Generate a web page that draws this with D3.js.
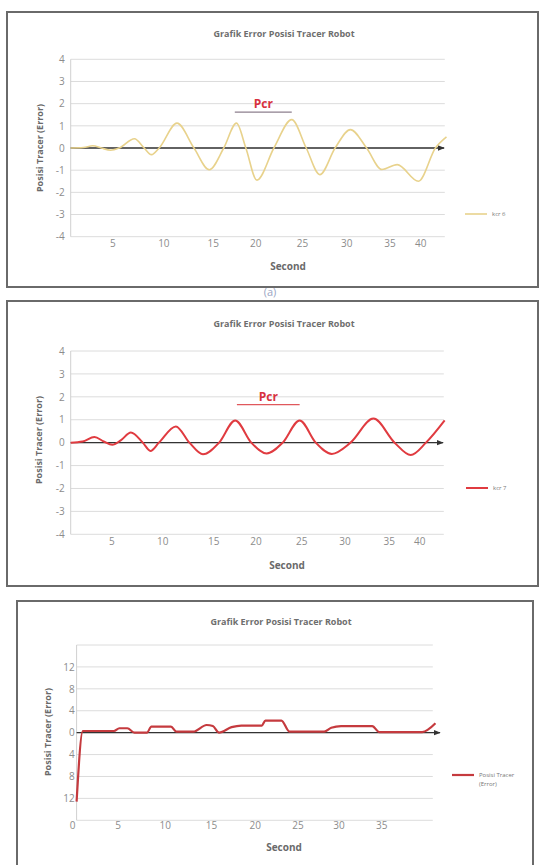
<!DOCTYPE html>
<html lang="id">
<head>
<meta charset="UTF-8">
<title>Grafik Error Posisi Tracer Robot</title>
<script src="https://d3js.org/d3.v7.min.js"></script>
<style>
    body { margin: 0; padding: 0; background: #fff; }
    svg { display: block; font-family: "Open Sans", "DejaVu Sans", sans-serif; }
</style>
</head>
<body>
<div id="chart"></div>
<script>
    // --- data ---
    // chart 1 : Kcr 6 (x in sample units, y = error)
    const kcr6Time  = [0, 1.5, 2.6, 3.6, 4.7, 5.7, 7.5, 8.6, 9.5, 10.4, 12.5, 14.5, 16.3, 18.0, 19.5, 20.6, 21.9, 23.9, 26.0, 27.7, 29.3, 31.1, 32.9, 34.8, 36.6, 38.4, 40.9, 42.9, 44.2];
    const kcr6Error = [0, 0.02, 0.1, 0.0, -0.1, 0.0, 0.42, 0.02, -0.3, 0.0, 1.12, 0.0, -0.98, 0.0, 1.12, 0.0, -1.45, 0.0, 1.28, 0.0, -1.2, 0.0, 0.83, 0.0, -0.97, -0.75, -1.5, 0.0, 0.5];

    // chart 2 : Kcr 7
    const kcr7Time  = [0, 1.4, 2.8, 3.9, 4.9, 5.9, 7.1, 8.5, 9.4, 10.4, 12.4, 14.0, 15.6, 17.5, 19.4, 21.3, 23.1, 25.0, 27.0, 28.9, 30.8, 33.0, 35.7, 38.2, 40.1, 41.9, 44.1];
    const kcr7Error = [0, 0.05, 0.25, 0.05, -0.09, 0.1, 0.44, 0.0, -0.36, 0.0, 0.71, 0.0, -0.51, 0.0, 0.97, 0.0, -0.47, 0.0, 0.97, 0.0, -0.49, 0.0, 1.05, 0.0, -0.54, 0.0, 0.97];

    // chart 3 : Posisi Tracer (Error)
    const tracerTime  = [0, 0.7, 4.2, 4.8, 5.7, 6.5, 7.9, 8.4, 10.6, 11.2, 13.1, 14.6, 15.3, 16.0, 17.4, 18.5, 20.8, 21.2, 23.0, 23.9, 27.8, 28.6, 29.7, 33.2, 34.0, 38.8, 40.3];
    const tracerError = [-12.6, 0.3, 0.3, 0.8, 0.8, 0.0, 0.0, 1.1, 1.1, 0.2, 0.2, 1.4, 1.2, 0.0, 1.0, 1.3, 1.3, 2.2, 2.2, 0.2, 0.2, 0.9, 1.2, 1.2, 0.1, 0.1, 1.7];

    // x tick labels (category axis, labels sit at these sample positions)
    const xTickLabels12 = ["5", "10", "15", "20", "25", "30", "35", "40"];
    const xTickPos1 = [4.9, 10.9, 16.7, 21.7, 27.2, 32.4, 37.5, 41.1];
    const xTickPos2 = [4.8, 10.8, 16.8, 21.8, 27.2, 32.3, 37.5, 41.1];
    const xTickLabels3 = ["0", "5", "10", "15", "20", "25", "30", "35"];
    const xTickPos3 = [-0.5, 4.6, 9.9, 15.1, 20.0, 24.8, 29.4, 34.2];

    // y ticks
    const yTicks12 = [-4, -3, -2, -1, 0, 1, 2, 3, 4];
    const yTicks3 = [-16, -12, -8, -4, 0, 4, 8, 12, 16];
    const yTickLabels3 = ["", "12", "8", "4", "0", "4", "8", "12", ""];

    const W = 541, H = 865;
    const svg = d3.select("#chart").append("svg")
        .attr("width", W).attr("height", H);

    svg.append("defs").html(`
        <marker id="arrow" viewBox="0 0 10 10" refX="9" refY="5" markerWidth="5" markerHeight="5" orient="auto">
            <path d="M0,1 L10,5 L0,9 z" fill="#333"></path>
        </marker>`);

    // caption fragment peeking out between chart 1 and 2
    svg.append("text").attr("x", 270).attr("y", 296)
        .attr("text-anchor", "middle").attr("font-size", 11).attr("fill", "#9aa6c4")
        .text("(a)");

    function drawPanel(p) {
        const g = svg.append("g");

        // frame
        g.append("rect")
            .attr("x", p.box[0]).attr("y", p.box[1])
            .attr("width", p.box[2]).attr("height", p.box[3])
            .attr("fill", "#fff").attr("stroke", "#6a6a6a").attr("stroke-width", 2);

        const x = d3.scaleLinear().domain(p.xDomain).range(p.xRange);
        const y = d3.scaleLinear().domain(p.yDomain).range(p.yRange);

        // grid lines
        g.selectAll(".grid").data(p.yTicks).join("line")
            .attr("x1", p.xRange[0]).attr("x2", p.xRange[1])
            .attr("y1", d => y(d)).attr("y2", d => y(d))
            .attr("stroke", "#dcdcdc").attr("stroke-width", 1);

        // left axis line
        g.append("line")
            .attr("x1", p.xRange[0]).attr("x2", p.xRange[0])
            .attr("y1", p.yRange[0]).attr("y2", p.yRange[1])
            .attr("stroke", "#d0d0d0");

        // y axis labels
        const yAxis = g.append("g")
            .attr("transform", `translate(${p.xRange[0]},0)`)
            .call(d3.axisLeft(y).tickValues(p.yTicks).tickSize(0).tickPadding(p.yPad)
                .tickFormat((d, i) => p.yLabels ? p.yLabels[i] : d));
        yAxis.select(".domain").remove();
        yAxis.selectAll("text").attr("font-size", 10).attr("fill", "#8c8c8c")
            .attr("font-family", "Open Sans, sans-serif");

        // x axis labels
        const xAxis = g.append("g")
            .attr("transform", `translate(0,${p.xLabelY})`)
            .call(d3.axisBottom(x).tickValues(p.xTicks).tickSize(0).tickPadding(0)
                .tickFormat((d, i) => p.xLabels[i]));
        xAxis.select(".domain").remove();
        xAxis.selectAll("text").attr("font-size", 10).attr("fill", "#8c8c8c")
            .attr("font-family", "Open Sans, sans-serif");

        // zero axis with arrow
        g.append("line")
            .attr("x1", p.xRange[0]).attr("x2", p.arrowEnd)
            .attr("y1", y(0)).attr("y2", y(0))
            .attr("stroke", "#333").attr("stroke-width", 1.4)
            .attr("marker-end", "url(#arrow)");

        // series
        const pts = p.xs.map((v, i) => [v, p.ys[i]]);
        const line = d3.line().x(d => x(d[0])).y(d => y(d[1])).curve(p.curve);
        g.append("path").datum(pts)
            .attr("d", line)
            .attr("fill", "none")
            .attr("stroke", p.color)
            .attr("stroke-width", p.width)
            .attr("stroke-linejoin", "round");

        // Pcr marker
        if (p.pcr) {
            g.append("line")
                .attr("x1", x(p.pcr[0])).attr("x2", x(p.pcr[1]))
                .attr("y1", y(p.pcr[2])).attr("y2", y(p.pcr[2]))
                .attr("stroke", p.pcrLine).attr("stroke-width", 1.3);
            g.append("text")
                .attr("x", x((p.pcr[0] + p.pcr[1]) / 2)).attr("y", y(p.pcr[2]) - 4)
                .attr("text-anchor", "middle")
                .attr("font-size", 12).attr("font-weight", "bold").attr("fill", "#d8323f")
                .text("Pcr");
        }

        // title
        g.append("text")
            .attr("x", p.titleX).attr("y", p.titleY)
            .attr("text-anchor", "middle")
            .attr("font-size", 9).attr("font-weight", "bold").attr("fill", "#6e6e6e")
            .text("Grafik Error Posisi Tracer Robot");

        // axis titles
        g.append("text")
            .attr("transform", `translate(${p.yTitle[0]},${p.yTitle[1]}) rotate(-90)`)
            .attr("text-anchor", "middle").attr("dy", "0.35em")
            .attr("font-size", 9).attr("font-weight", "bold").attr("fill", "#6a6a6a")
            .text("Posisi Tracer (Error)");
        g.append("text")
            .attr("x", p.xTitle[0]).attr("y", p.xTitle[1])
            .attr("text-anchor", "middle")
            .attr("font-size", 10).attr("font-weight", "bold").attr("fill", "#6a6a6a")
            .text("Second");

        // legend
        g.append("line")
            .attr("x1", p.legend[0]).attr("x2", p.legend[0] + 22)
            .attr("y1", p.legend[1]).attr("y2", p.legend[1])
            .attr("stroke", p.color).attr("stroke-width", p.width);
        const lt = g.append("text")
            .attr("x", p.legend[0] + 27).attr("y", p.legend[1] + 2)
            .attr("font-size", 6).attr("fill", "#777");
        p.legendText.forEach((t, i) => {
            lt.append("tspan").attr("x", p.legend[0] + 27).attr("dy", i === 0 ? 0 : 9).text(t);
        });
    }

    drawPanel({
        box: [7, 12, 531, 275],
        xDomain: [0, 44], xRange: [70.7, 444.8],
        yDomain: [-4, 4], yRange: [236.7, 59.3],
        yTicks: yTicks12, yPad: 6,
        xTicks: xTickPos1, xLabels: xTickLabels12, xLabelY: 240,
        arrowEnd: 444,
        xs: kcr6Time, ys: kcr6Error,
        curve: d3.curveMonotoneX, color: "#e8d28c", width: 1.6,
        pcr: [19.3, 26.0, 1.62], pcrLine: "#8d7f8e",
        titleX: 284, titleY: 37,
        yTitle: [40, 148], xTitle: [288, 270],
        legend: [465, 214], legendText: ["kcr 6"]
    });

    drawPanel({
        box: [7, 301, 531, 285],
        xDomain: [0, 44], xRange: [70.7, 443.8],
        yDomain: [-4, 4], yRange: [534.3, 351],
        yTicks: yTicks12, yPad: 6,
        xTicks: xTickPos2, xLabels: xTickLabels12, xLabelY: 538,
        arrowEnd: 443,
        xs: kcr7Time, ys: kcr7Error,
        curve: d3.curveMonotoneX, color: "#e03b40", width: 2,
        pcr: [19.6, 27.0, 1.66], pcrLine: "#e0585c",
        titleX: 284, titleY: 327,
        yTitle: [39, 440], xTitle: [287, 569],
        legend: [466, 488], legendText: ["kcr 7"]
    });

    drawPanel({
        box: [17, 601, 516, 280],
        xDomain: [0, 40], xRange: [76.6, 432.8],
        yDomain: [-16, 16], yRange: [820.3, 645],
        yTicks: yTicks3, yLabels: yTickLabels3, yPad: 2,
        xTicks: xTickPos3, xLabels: xTickLabels3, xLabelY: 822,
        arrowEnd: 440,
        xs: tracerTime, ys: tracerError,
        curve: d3.curveMonotoneX, color: "#c53a3e", width: 2.2,
        pcr: null,
        titleX: 281, titleY: 625,
        yTitle: [48, 732], xTitle: [284, 851],
        legend: [452, 775], legendText: ["Posisi Tracer", "(Error)"]
    });
</script>
</body>
</html>
